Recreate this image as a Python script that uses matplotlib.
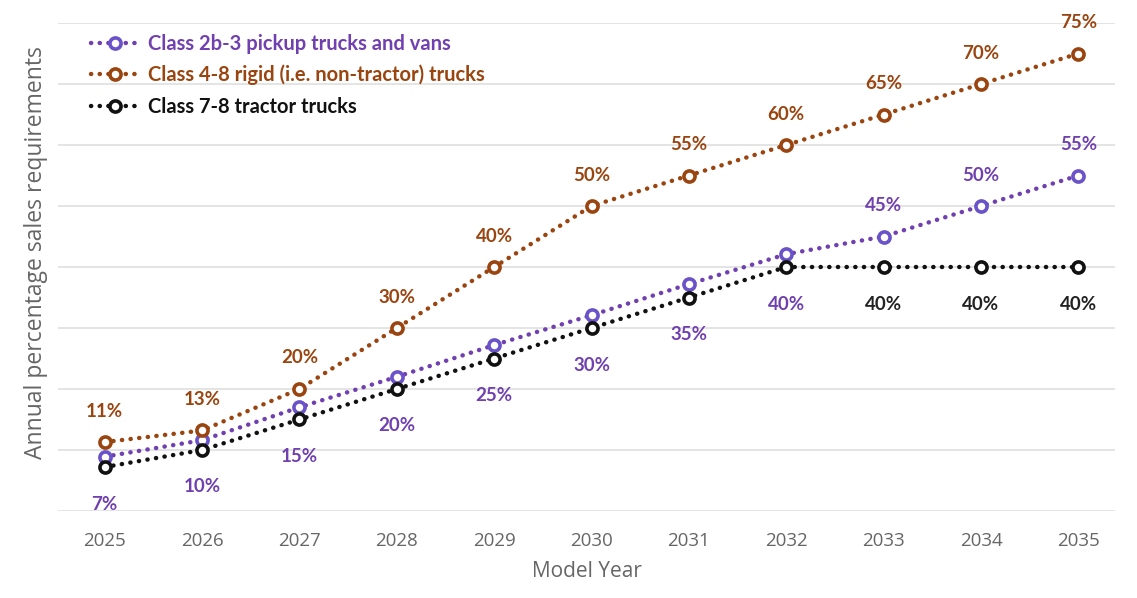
import matplotlib
matplotlib.use("Agg")
import matplotlib.pyplot as plt

years = [2025, 2026, 2027, 2028, 2029, 2030, 2031, 2032, 2033, 2034, 2035]
pickup = [8.9, 11.6, 17, 22, 27.2, 32.1, 37.2, 42.1, 45, 50, 55]
rigid = [11.3, 13.2, 20, 30, 40, 50, 55, 60, 65, 70, 75]
tractor = [7.2, 10, 15, 20, 25, 30, 35, 40, 40, 40, 40]

pickup_labels = ["7%", "10%", "15%", "20%", "25%", "30%", "35%", "40%", "45%", "50%", "55%"]
rigid_labels = ["11%", "13%", "20%", "30%", "40%", "50%", "55%", "60%", "65%", "70%", "75%"]
tractor_labels = ["", "", "", "", "", "", "", "", "40%", "40%", "40%"]

names = ["Class 2b-3 pickup trucks and vans",
         "Class 4-8 rigid (i.e. non-tractor) trucks",
         "Class 7-8 tractor trucks"]

c_pickup = "#7040b0"
c_pickup_mk = "#6a52c8"
c_rigid = "#9a4510"
c_tractor = "#111111"

fig = plt.figure(figsize=(11.37, 5.98), dpi=100)
ax = fig.add_axes([0.051, 0.1455, 0.93, 0.816])

dots = (0, (0.05, 1.9))
for vals, col, mk, name in [(pickup, c_pickup, c_pickup_mk, names[0]),
                            (rigid, c_rigid, c_rigid, names[1]),
                            (tractor, c_tractor, c_tractor, names[2])]:
    ax.plot(years, vals, linestyle=dots, dash_capstyle="round", lw=3.2, color=col,
            marker="o", ms=8, mfc="white", mec=mk, mew=2.6, label=name, zorder=3)

lab_font = dict(fontfamily="Lato", fontweight="bold", fontsize=13.5, ha="center", va="center")
for i, y in enumerate(years):
    ax.annotate(rigid_labels[i], (y, rigid[i]), xytext=(0, 31), textcoords="offset pixels",
                color=c_rigid, **lab_font)
    if pickup[i] - tractor[i] > 3:
        ax.annotate(pickup_labels[i], (y, pickup[i]), xytext=(0, 31), textcoords="offset pixels",
                    color=c_pickup, **lab_font)
    else:
        ax.annotate(pickup_labels[i], (y, tractor[i]), xytext=(0, -37), textcoords="offset pixels",
                    color=c_pickup, **lab_font)
    if tractor_labels[i]:
        ax.annotate(tractor_labels[i], (y, tractor[i]), xytext=(0, -37), textcoords="offset pixels",
                    color="#222222", **lab_font)

ax.set_xlim(2024.52, 2035.38)
ax.set_ylim(0, 80)
ax.set_yticks(range(0, 81, 10))
ax.set_yticklabels([])
ax.set_xticks(years)
ax.tick_params(axis="both", length=0)
ax.tick_params(axis="x", labelsize=13.5, labelcolor="#666666", pad=15)
for lbl in ax.get_xticklabels():
    lbl.set_fontfamily("Open Sans")
ax.grid(axis="y", color="#e2e2e2", lw=1.3)
ax.set_axisbelow(True)
for s in ax.spines.values():
    s.set_visible(False)

ax.set_xlabel("Model Year", fontsize=15, color="#666666", fontfamily="Open Sans", labelpad=8)
ax.set_ylabel("Annual percentage sales requirements", fontsize=16.5, color="#666666",
              fontfamily="Open Sans", labelpad=4)
ax.yaxis.set_label_coords(-0.009, 0.53)

leg = ax.legend(loc="upper left", bbox_to_anchor=(0.014, 1.015), frameon=False,
                handlelength=2.4, handletextpad=0.45, labelspacing=0.55,
                prop=dict(family="Lato", weight="bold", size=14.5), labelcolor="linecolor")

fig.savefig("out.png", dpi=100)
